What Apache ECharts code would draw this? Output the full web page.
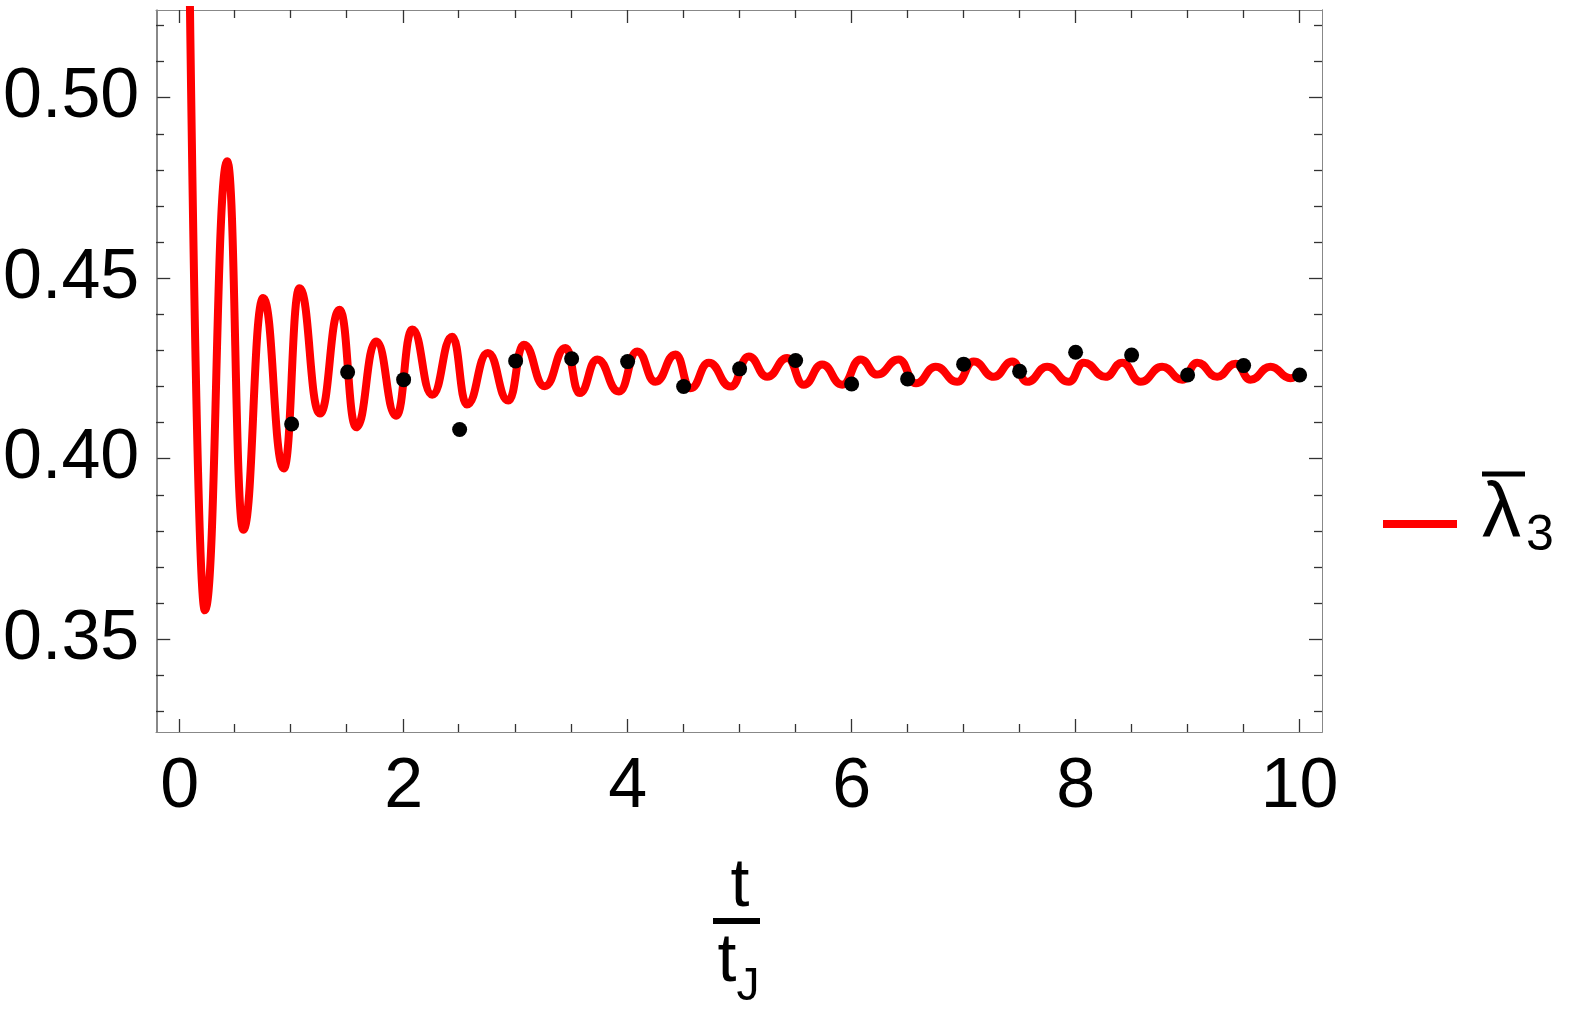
<!DOCTYPE html>
<html>
<head>
<meta charset="utf-8">
<script src="https://cdn.jsdelivr.net/npm/echarts@6/dist/echarts.min.js"></script>
<style>
html, body { margin: 0; padding: 0; background: #fff; }
#chart { width: 1578px; height: 1019px; }
</style>
</head>
<body>
<div id="chart"></div>
<script>
// red curve: extrema (t / t_J, value); first value is off the top of the frame
const curveT = [0, 0.225, 0.425, 0.568, 0.746, 0.93, 1.07, 1.252, 1.428, 1.577, 1.755,
  1.934, 2.077, 2.255, 2.434, 2.565, 2.752, 2.935, 3.073, 3.26, 3.446, 3.571, 3.729, 3.922, 4.086, 4.249,
  4.428, 4.562, 4.725, 4.92, 5.082, 5.246, 5.425, 5.573, 5.737, 5.916, 6.08, 6.228, 6.42, 6.575,
  6.75, 6.943, 7.09, 7.27, 7.434, 7.568, 7.746, 7.94, 8.073, 8.267, 8.416, 8.58, 8.773, 8.952,
  9.086, 9.264, 9.428, 9.562, 9.74, 9.919, 10.0];
const curveV = [0.80, 0.358, 0.4824, 0.3803, 0.4445, 0.3973, 0.4472, 0.4125, 0.4413, 0.4087, 0.4325,
  0.4119, 0.4358, 0.4177, 0.4338, 0.4150, 0.4293, 0.4161, 0.4316, 0.4201, 0.4307, 0.4182, 0.4275, 0.4186, 0.4297, 0.4213,
  0.4289, 0.4195, 0.4266, 0.4200, 0.4283, 0.4227, 0.4279, 0.4205, 0.4261, 0.4205, 0.4275, 0.4233, 0.4275, 0.4209,
  0.4255, 0.4213, 0.4269, 0.4227, 0.4269, 0.4213, 0.4255, 0.4213, 0.4266, 0.4227, 0.4266, 0.4213, 0.4255, 0.4219,
  0.4266, 0.4227, 0.4263, 0.4219, 0.4255, 0.4223, 0.4240];

// black sample points
const dotT = [1, 1.5, 2, 2.5, 3, 3.5, 4, 4.5, 5, 5.5, 6, 6.5, 7, 7.5, 8, 8.5, 9, 9.5, 10];
const dotV = [0.4096, 0.4240, 0.4219, 0.4081, 0.4271, 0.4277, 0.4269, 0.4200, 0.4249, 0.4272,
  0.4207, 0.4221, 0.4262, 0.4242, 0.4295, 0.4287, 0.4232, 0.4258, 0.4232];

const xMajorTicks = [0, 2, 4, 6, 8, 10];
const xMinorTicks = [0.5, 1, 1.5, 2.5, 3, 3.5, 4.5, 5, 5.5, 6.5, 7, 7.5, 8.5, 9, 9.5];
const yMajorTicks = [0.35, 0.40, 0.45, 0.50];
const yMinorTicks = [0.33, 0.34, 0.36, 0.37, 0.38, 0.39, 0.41, 0.42, 0.43, 0.44, 0.46, 0.47, 0.48, 0.49, 0.51, 0.52];

const font = 'Liberation Sans, Arial, sans-serif';
const frameColor = '#888';
const tickColor = '#333';

function xAxisDef(grid, pos, ticks, len, labels) {
  return {
    gridIndex: grid, type: 'value', position: pos, min: -0.2, max: 10.2,
    axisLine: { show: true, onZero: false, lineStyle: { color: frameColor, width: 1 } },
    splitLine: { show: false },
    axisTick: { show: true, inside: true, length: len, customValues: ticks, lineStyle: { color: tickColor, width: 1.3 } },
    axisLabel: labels ? { show: true, customValues: ticks, fontSize: 70, color: '#000', fontFamily: font, margin: 21 } : { show: false }
  };
}
function yAxisDef(grid, pos, ticks, len, labels) {
  return {
    gridIndex: grid, type: 'value', position: pos, min: 0.3243, max: 0.5243,
    axisLine: { show: true, onZero: false, lineStyle: { color: frameColor, width: 1 } },
    splitLine: { show: false },
    axisTick: { show: true, inside: true, length: len, customValues: ticks, lineStyle: { color: tickColor, width: 1.3 } },
    axisLabel: labels ? {
      show: true, customValues: ticks, fontSize: 70, color: '#000', fontFamily: font, margin: 18,
      formatter: v => v.toFixed(2)
    } : { show: false }
  };
}

const chart = echarts.init(document.getElementById('chart'));
chart.setOption({
  animation: false,
  backgroundColor: '#fff',
  grid: [
    { left: 156, top: 10, width: 1166, height: 722 },
    { left: 156, top: 10, width: 1166, height: 722 }
  ],
  xAxis: [
    xAxisDef(0, 'bottom', xMajorTicks, 13, true),
    xAxisDef(0, 'top', xMajorTicks, 13, false),
    xAxisDef(1, 'bottom', xMinorTicks, 8, false),
    xAxisDef(1, 'top', xMinorTicks, 8, false)
  ],
  yAxis: [
    yAxisDef(0, 'left', yMajorTicks, 13, true),
    yAxisDef(0, 'right', yMajorTicks, 13, false),
    yAxisDef(1, 'left', yMinorTicks, 8, false),
    yAxisDef(1, 'right', yMinorTicks, 8, false)
  ],
  legend: {
    data: ['lambda3'],
    orient: 'vertical',
    left: 1383,
    top: 468,
    padding: 0,
    icon: 'rect',
    itemWidth: 74,
    itemHeight: 8,
    selectedMode: false,
    formatter: () => '{bar|}\n{l|λ}{s|3}',
    textStyle: {
      padding: [0, 0, 42, 20],
      rich: {
        bar: { width: 43, height: 5, backgroundColor: '#000', lineHeight: 5 },
        l: { fontSize: 78, lineHeight: 58, fontFamily: font, color: '#000', verticalAlign: 'top' },
        s: { fontSize: 50, lineHeight: 50, fontFamily: font, color: '#000', verticalAlign: 'top', padding: [35, 0, 20, 5] }
      }
    }
  },
  graphic: [
    { type: 'text', x: 740, y: 887, style: { text: 't', fontSize: 68, fontFamily: font, fill: '#000', textAlign: 'center', textVerticalAlign: 'middle' } },
    { type: 'rect', shape: { x: 713, y: 918, width: 47, height: 6 }, style: { fill: '#000' } },
    { type: 'text', x: 727, y: 962, style: { text: 't', fontSize: 68, fontFamily: font, fill: '#000', textAlign: 'center', textVerticalAlign: 'middle' } },
    { type: 'text', x: 748, y: 987, style: { text: 'J', fontSize: 46, fontFamily: font, fill: '#000', textAlign: 'center', textVerticalAlign: 'middle' } }
  ],
  series: [
    {
      name: 'lambda3', type: 'line', xAxisIndex: 0, yAxisIndex: 0,
      data: curveT.map((t, i) => [t, curveV[i]]),
      smooth: 0.5, smoothMonotone: 'x',
      showSymbol: false, symbol: 'none', clip: true,
      lineStyle: { color: '#ff0000', width: 8 },
      itemStyle: { color: '#ff0000' },
      z: 2
    },
    {
      name: 'points', type: 'scatter', xAxisIndex: 0, yAxisIndex: 0,
      data: dotT.map((t, i) => [t, dotV[i]]),
      symbol: 'circle', symbolSize: 15,
      itemStyle: { color: '#000', opacity: 1 },
      z: 3
    }
  ]
});
</script>
</body>
</html>
